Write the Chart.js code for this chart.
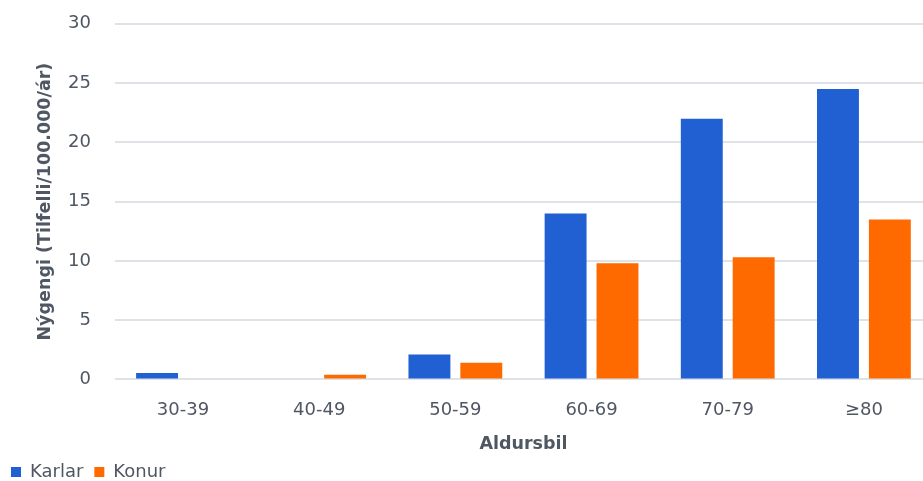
<!DOCTYPE html>
<html>
<head>
<meta charset="utf-8">
<script src="https://cdn.jsdelivr.net/npm/chart.js@4.4.1/dist/chart.umd.min.js"></script>
<style>
  html, body { margin: 0; padding: 0; background: #fff; overflow: hidden; }
  #wrap { position: relative; width: 936px; height: 481px; }
</style>
</head>
<body>
<div id="wrap"><canvas id="chart"></canvas></div>
<script>
// Age groups and incidence per 100.000 per year
const ageGroups = ['30-39', '40-49', '50-59', '60-69', '70-79', '≥80'];
const karlar = [0.55, 0, 2.1, 14.0, 22.0, 24.5];
const konur = [0, 0.4, 1.4, 9.8, 10.3, 13.5];
const yTicks = [0, 5, 10, 15, 20, 25, 30];

const textColor = '#4f5763';
const fontFamily = '"DejaVu Sans", sans-serif';

const ctx = document.getElementById('chart').getContext('2d');
new Chart(ctx, {
  type: 'bar',
  data: {
    labels: ageGroups,
    datasets: [
      { label: 'Karlar', data: karlar, backgroundColor: '#2160d2', categoryPercentage: 0.762, barPercentage: 0.808 },
      { label: 'Konur', data: konur, backgroundColor: '#ff6a00', categoryPercentage: 0.762, barPercentage: 0.808 }
    ]
  },
  options: {
    responsive: true,
    maintainAspectRatio: false,
    animation: false,
    layout: { padding: { top: 0, right: 4, bottom: -10, left: 0 } },
    plugins: {
      legend: {
        position: 'bottom',
        align: 'start',
        labels: {
          boxWidth: 10,
          boxHeight: 10,
          padding: 11,
          color: textColor,
          font: { family: fontFamily, size: 18 }
        }
      },
      tooltip: { enabled: false }
    },
    scales: {
      x: {
        grid: { display: false, drawTicks: false },
        border: { display: false },
        ticks: { color: textColor, padding: 20, font: { family: fontFamily, size: 18 } },
        title: {
          display: true,
          text: 'Aldursbil',
          color: textColor,
          padding: { top: -7, bottom: -3 },
          font: { family: fontFamily, size: 17.5, weight: 'bold' }
        }
      },
      y: {
        min: 0,
        max: 30,
        afterBuildTicks: axis => { axis.ticks = yTicks.map(v => ({ value: v })); },
        grid: { color: '#dfe3e8', lineWidth: 2, drawTicks: true, tickLength: 11, tickColor: 'rgba(0,0,0,0)' },
        border: { display: false },
        ticks: { color: textColor, padding: 13, font: { family: fontFamily, size: 18 } },
        title: {
          display: true,
          text: 'Nýgengi (Tilfelli/100.000/ár)',
          color: textColor,
          padding: { top: 35, bottom: -1 },
          font: { family: fontFamily, size: 17.5, weight: 'bold' }
        }
      }
    }
  }
});
</script>
</body>
</html>
